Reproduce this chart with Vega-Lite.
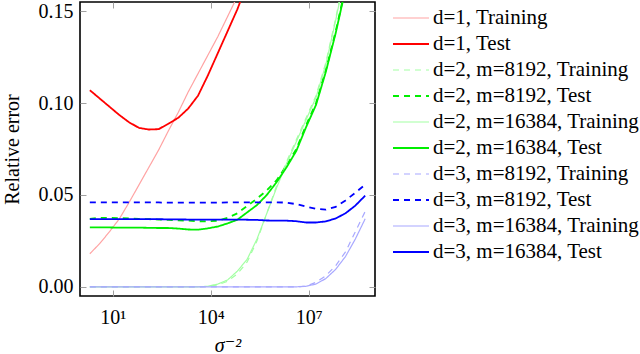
{
  "$schema": "https://vega.github.io/schema/vega-lite/v6.json",
  "width": 295,
  "height": 294,
  "autosize": {"type": "none"},
  "padding": {"left": 80, "top": 2, "right": 265, "bottom": 58},
  "background": "white",
  "config": {
    "font": "Liberation Serif, DejaVu Serif, serif",
    "view": {"stroke": "#000000", "strokeWidth": 1.6},
    "axis": {
      "labelFont": "Liberation Serif, DejaVu Serif, serif",
      "labelFontSize": 20,
      "labelColor": "black",
      "titleFont": "Liberation Serif, DejaVu Serif, serif",
      "titleFontSize": 20,
      "titleFontWeight": "normal",
      "titleColor": "black",
      "domain": false,
      "grid": false,
      "tickColor": "#a0a0a0",
      "tickSize": -6,
      "tickWidth": 1
    },
    "legend": {
      "labelFont": "Liberation Serif, DejaVu Serif, serif",
      "labelFontSize": 21,
      "labelColor": "black"
    }
  },
  "data": {
    "values": [
      {"x": 2, "y": 0.018, "s": "d=1, Training"},
      {"x": 4, "y": 0.0235, "s": "d=1, Training"},
      {"x": 8, "y": 0.030, "s": "d=1, Training"},
      {"x": 16, "y": 0.037, "s": "d=1, Training"},
      {"x": 32, "y": 0.046, "s": "d=1, Training"},
      {"x": 64, "y": 0.0555, "s": "d=1, Training"},
      {"x": 128, "y": 0.065, "s": "d=1, Training"},
      {"x": 256, "y": 0.0745, "s": "d=1, Training"},
      {"x": 512, "y": 0.085, "s": "d=1, Training"},
      {"x": 1024, "y": 0.095, "s": "d=1, Training"},
      {"x": 2048, "y": 0.106, "s": "d=1, Training"},
      {"x": 4096, "y": 0.116, "s": "d=1, Training"},
      {"x": 8192, "y": 0.126, "s": "d=1, Training"},
      {"x": 16384, "y": 0.136, "s": "d=1, Training"},
      {"x": 32768, "y": 0.147, "s": "d=1, Training"},
      {"x": 65536, "y": 0.158, "s": "d=1, Training"},
      {"x": 131072, "y": 0.169, "s": "d=1, Training"},

      {"x": 2, "y": 0.107, "s": "d=1, Test"},
      {"x": 4, "y": 0.1025, "s": "d=1, Test"},
      {"x": 8, "y": 0.098, "s": "d=1, Test"},
      {"x": 16, "y": 0.0935, "s": "d=1, Test"},
      {"x": 32, "y": 0.0895, "s": "d=1, Test"},
      {"x": 64, "y": 0.0865, "s": "d=1, Test"},
      {"x": 128, "y": 0.0856, "s": "d=1, Test"},
      {"x": 256, "y": 0.0858, "s": "d=1, Test"},
      {"x": 512, "y": 0.0888, "s": "d=1, Test"},
      {"x": 1024, "y": 0.092, "s": "d=1, Test"},
      {"x": 2048, "y": 0.097, "s": "d=1, Test"},
      {"x": 4096, "y": 0.104, "s": "d=1, Test"},
      {"x": 8192, "y": 0.115, "s": "d=1, Test"},
      {"x": 16384, "y": 0.127, "s": "d=1, Test"},
      {"x": 32768, "y": 0.139, "s": "d=1, Test"},
      {"x": 65536, "y": 0.151, "s": "d=1, Test"},
      {"x": 131072, "y": 0.165, "s": "d=1, Test"},

      {"x": 2, "y": 0, "s": "d=2, m=8192, Training"},
      {"x": 4, "y": 0, "s": "d=2, m=8192, Training"},
      {"x": 8, "y": 0, "s": "d=2, m=8192, Training"},
      {"x": 16, "y": 0, "s": "d=2, m=8192, Training"},
      {"x": 32, "y": 0, "s": "d=2, m=8192, Training"},
      {"x": 64, "y": 0, "s": "d=2, m=8192, Training"},
      {"x": 128, "y": 0, "s": "d=2, m=8192, Training"},
      {"x": 256, "y": 0, "s": "d=2, m=8192, Training"},
      {"x": 512, "y": 0, "s": "d=2, m=8192, Training"},
      {"x": 1024, "y": 0, "s": "d=2, m=8192, Training"},
      {"x": 2048, "y": 0, "s": "d=2, m=8192, Training"},
      {"x": 4096, "y": 0, "s": "d=2, m=8192, Training"},
      {"x": 8192, "y": 0.0002, "s": "d=2, m=8192, Training"},
      {"x": 16384, "y": 0.001, "s": "d=2, m=8192, Training"},
      {"x": 32768, "y": 0.003, "s": "d=2, m=8192, Training"},
      {"x": 65536, "y": 0.007, "s": "d=2, m=8192, Training"},
      {"x": 131072, "y": 0.0135, "s": "d=2, m=8192, Training"},
      {"x": 262144, "y": 0.025, "s": "d=2, m=8192, Training"},
      {"x": 524288, "y": 0.040, "s": "d=2, m=8192, Training"},
      {"x": 1048576, "y": 0.055, "s": "d=2, m=8192, Training"},
      {"x": 2097152, "y": 0.068, "s": "d=2, m=8192, Training"},
      {"x": 4194304, "y": 0.080, "s": "d=2, m=8192, Training"},
      {"x": 8388608, "y": 0.092, "s": "d=2, m=8192, Training"},
      {"x": 16777216, "y": 0.104, "s": "d=2, m=8192, Training"},
      {"x": 33554432, "y": 0.122, "s": "d=2, m=8192, Training"},
      {"x": 67108864, "y": 0.146, "s": "d=2, m=8192, Training"},
      {"x": 134217728, "y": 0.172, "s": "d=2, m=8192, Training"},

      {"x": 2, "y": 0.037, "s": "d=2, m=8192, Test"},
      {"x": 4, "y": 0.0375, "s": "d=2, m=8192, Test"},
      {"x": 8, "y": 0.0375, "s": "d=2, m=8192, Test"},
      {"x": 16, "y": 0.0374, "s": "d=2, m=8192, Test"},
      {"x": 32, "y": 0.0372, "s": "d=2, m=8192, Test"},
      {"x": 64, "y": 0.037, "s": "d=2, m=8192, Test"},
      {"x": 128, "y": 0.0368, "s": "d=2, m=8192, Test"},
      {"x": 256, "y": 0.0366, "s": "d=2, m=8192, Test"},
      {"x": 512, "y": 0.0364, "s": "d=2, m=8192, Test"},
      {"x": 1024, "y": 0.0362, "s": "d=2, m=8192, Test"},
      {"x": 2048, "y": 0.036, "s": "d=2, m=8192, Test"},
      {"x": 4096, "y": 0.0357, "s": "d=2, m=8192, Test"},
      {"x": 8192, "y": 0.0356, "s": "d=2, m=8192, Test"},
      {"x": 16384, "y": 0.036, "s": "d=2, m=8192, Test"},
      {"x": 32768, "y": 0.0375, "s": "d=2, m=8192, Test"},
      {"x": 65536, "y": 0.040, "s": "d=2, m=8192, Test"},
      {"x": 131072, "y": 0.044, "s": "d=2, m=8192, Test"},
      {"x": 262144, "y": 0.048, "s": "d=2, m=8192, Test"},
      {"x": 524288, "y": 0.0525, "s": "d=2, m=8192, Test"},
      {"x": 1048576, "y": 0.058, "s": "d=2, m=8192, Test"},
      {"x": 2097152, "y": 0.066, "s": "d=2, m=8192, Test"},
      {"x": 4194304, "y": 0.075, "s": "d=2, m=8192, Test"},
      {"x": 8388608, "y": 0.088, "s": "d=2, m=8192, Test"},
      {"x": 16777216, "y": 0.100, "s": "d=2, m=8192, Test"},
      {"x": 33554432, "y": 0.118, "s": "d=2, m=8192, Test"},
      {"x": 67108864, "y": 0.139, "s": "d=2, m=8192, Test"},
      {"x": 134217728, "y": 0.163, "s": "d=2, m=8192, Test"},

      {"x": 2, "y": 0, "s": "d=2, m=16384, Training"},
      {"x": 4, "y": 0, "s": "d=2, m=16384, Training"},
      {"x": 8, "y": 0, "s": "d=2, m=16384, Training"},
      {"x": 16, "y": 0, "s": "d=2, m=16384, Training"},
      {"x": 32, "y": 0, "s": "d=2, m=16384, Training"},
      {"x": 64, "y": 0, "s": "d=2, m=16384, Training"},
      {"x": 128, "y": 0, "s": "d=2, m=16384, Training"},
      {"x": 256, "y": 0, "s": "d=2, m=16384, Training"},
      {"x": 512, "y": 0, "s": "d=2, m=16384, Training"},
      {"x": 1024, "y": 0, "s": "d=2, m=16384, Training"},
      {"x": 2048, "y": 0, "s": "d=2, m=16384, Training"},
      {"x": 4096, "y": 0, "s": "d=2, m=16384, Training"},
      {"x": 8192, "y": 0.0003, "s": "d=2, m=16384, Training"},
      {"x": 16384, "y": 0.0015, "s": "d=2, m=16384, Training"},
      {"x": 32768, "y": 0.0037, "s": "d=2, m=16384, Training"},
      {"x": 65536, "y": 0.0085, "s": "d=2, m=16384, Training"},
      {"x": 131072, "y": 0.015, "s": "d=2, m=16384, Training"},
      {"x": 262144, "y": 0.026, "s": "d=2, m=16384, Training"},
      {"x": 524288, "y": 0.040, "s": "d=2, m=16384, Training"},
      {"x": 1048576, "y": 0.054, "s": "d=2, m=16384, Training"},
      {"x": 2097152, "y": 0.067, "s": "d=2, m=16384, Training"},
      {"x": 4194304, "y": 0.079, "s": "d=2, m=16384, Training"},
      {"x": 8388608, "y": 0.091, "s": "d=2, m=16384, Training"},
      {"x": 16777216, "y": 0.103, "s": "d=2, m=16384, Training"},
      {"x": 33554432, "y": 0.121, "s": "d=2, m=16384, Training"},
      {"x": 67108864, "y": 0.145, "s": "d=2, m=16384, Training"},
      {"x": 134217728, "y": 0.171, "s": "d=2, m=16384, Training"},

      {"x": 2, "y": 0.0323, "s": "d=2, m=16384, Test"},
      {"x": 4, "y": 0.0323, "s": "d=2, m=16384, Test"},
      {"x": 8, "y": 0.0323, "s": "d=2, m=16384, Test"},
      {"x": 16, "y": 0.0322, "s": "d=2, m=16384, Test"},
      {"x": 32, "y": 0.0322, "s": "d=2, m=16384, Test"},
      {"x": 64, "y": 0.0322, "s": "d=2, m=16384, Test"},
      {"x": 128, "y": 0.0321, "s": "d=2, m=16384, Test"},
      {"x": 256, "y": 0.032, "s": "d=2, m=16384, Test"},
      {"x": 512, "y": 0.032, "s": "d=2, m=16384, Test"},
      {"x": 1024, "y": 0.0317, "s": "d=2, m=16384, Test"},
      {"x": 2048, "y": 0.0312, "s": "d=2, m=16384, Test"},
      {"x": 4096, "y": 0.0311, "s": "d=2, m=16384, Test"},
      {"x": 8192, "y": 0.0318, "s": "d=2, m=16384, Test"},
      {"x": 16384, "y": 0.0328, "s": "d=2, m=16384, Test"},
      {"x": 32768, "y": 0.0345, "s": "d=2, m=16384, Test"},
      {"x": 65536, "y": 0.0365, "s": "d=2, m=16384, Test"},
      {"x": 131072, "y": 0.0405, "s": "d=2, m=16384, Test"},
      {"x": 262144, "y": 0.0445, "s": "d=2, m=16384, Test"},
      {"x": 524288, "y": 0.050, "s": "d=2, m=16384, Test"},
      {"x": 1048576, "y": 0.057, "s": "d=2, m=16384, Test"},
      {"x": 2097152, "y": 0.065, "s": "d=2, m=16384, Test"},
      {"x": 4194304, "y": 0.074, "s": "d=2, m=16384, Test"},
      {"x": 8388608, "y": 0.087, "s": "d=2, m=16384, Test"},
      {"x": 16777216, "y": 0.099, "s": "d=2, m=16384, Test"},
      {"x": 33554432, "y": 0.117, "s": "d=2, m=16384, Test"},
      {"x": 67108864, "y": 0.138, "s": "d=2, m=16384, Test"},
      {"x": 134217728, "y": 0.162, "s": "d=2, m=16384, Test"},

      {"x": 2, "y": 0, "s": "d=3, m=8192, Training"},
      {"x": 4, "y": 0, "s": "d=3, m=8192, Training"},
      {"x": 8, "y": 0, "s": "d=3, m=8192, Training"},
      {"x": 16, "y": 0, "s": "d=3, m=8192, Training"},
      {"x": 32, "y": 0, "s": "d=3, m=8192, Training"},
      {"x": 64, "y": 0, "s": "d=3, m=8192, Training"},
      {"x": 128, "y": 0, "s": "d=3, m=8192, Training"},
      {"x": 256, "y": 0, "s": "d=3, m=8192, Training"},
      {"x": 512, "y": 0, "s": "d=3, m=8192, Training"},
      {"x": 1024, "y": 0, "s": "d=3, m=8192, Training"},
      {"x": 2048, "y": 0, "s": "d=3, m=8192, Training"},
      {"x": 4096, "y": 0, "s": "d=3, m=8192, Training"},
      {"x": 8192, "y": 0, "s": "d=3, m=8192, Training"},
      {"x": 16384, "y": 0, "s": "d=3, m=8192, Training"},
      {"x": 32768, "y": 0, "s": "d=3, m=8192, Training"},
      {"x": 65536, "y": 0, "s": "d=3, m=8192, Training"},
      {"x": 131072, "y": 0, "s": "d=3, m=8192, Training"},
      {"x": 262144, "y": 0, "s": "d=3, m=8192, Training"},
      {"x": 524288, "y": 0, "s": "d=3, m=8192, Training"},
      {"x": 1048576, "y": 0, "s": "d=3, m=8192, Training"},
      {"x": 2097152, "y": 0, "s": "d=3, m=8192, Training"},
      {"x": 4194304, "y": 0, "s": "d=3, m=8192, Training"},
      {"x": 8388608, "y": 0.0003, "s": "d=3, m=8192, Training"},
      {"x": 16777216, "y": 0.0025, "s": "d=3, m=8192, Training"},
      {"x": 33554432, "y": 0.006, "s": "d=3, m=8192, Training"},
      {"x": 67108864, "y": 0.0115, "s": "d=3, m=8192, Training"},
      {"x": 134217728, "y": 0.019, "s": "d=3, m=8192, Training"},
      {"x": 268435456, "y": 0.030, "s": "d=3, m=8192, Training"},
      {"x": 536870912, "y": 0.041, "s": "d=3, m=8192, Training"},

      {"x": 2, "y": 0.046, "s": "d=3, m=8192, Test"},
      {"x": 4, "y": 0.046, "s": "d=3, m=8192, Test"},
      {"x": 8, "y": 0.046, "s": "d=3, m=8192, Test"},
      {"x": 16, "y": 0.046, "s": "d=3, m=8192, Test"},
      {"x": 32, "y": 0.046, "s": "d=3, m=8192, Test"},
      {"x": 64, "y": 0.046, "s": "d=3, m=8192, Test"},
      {"x": 128, "y": 0.046, "s": "d=3, m=8192, Test"},
      {"x": 256, "y": 0.0459, "s": "d=3, m=8192, Test"},
      {"x": 512, "y": 0.0458, "s": "d=3, m=8192, Test"},
      {"x": 1024, "y": 0.0458, "s": "d=3, m=8192, Test"},
      {"x": 2048, "y": 0.0458, "s": "d=3, m=8192, Test"},
      {"x": 4096, "y": 0.0458, "s": "d=3, m=8192, Test"},
      {"x": 8192, "y": 0.0458, "s": "d=3, m=8192, Test"},
      {"x": 16384, "y": 0.0458, "s": "d=3, m=8192, Test"},
      {"x": 32768, "y": 0.0459, "s": "d=3, m=8192, Test"},
      {"x": 65536, "y": 0.046, "s": "d=3, m=8192, Test"},
      {"x": 131072, "y": 0.046, "s": "d=3, m=8192, Test"},
      {"x": 262144, "y": 0.046, "s": "d=3, m=8192, Test"},
      {"x": 524288, "y": 0.046, "s": "d=3, m=8192, Test"},
      {"x": 1048576, "y": 0.046, "s": "d=3, m=8192, Test"},
      {"x": 2097152, "y": 0.0458, "s": "d=3, m=8192, Test"},
      {"x": 4194304, "y": 0.045, "s": "d=3, m=8192, Test"},
      {"x": 8388608, "y": 0.0436, "s": "d=3, m=8192, Test"},
      {"x": 16777216, "y": 0.0425, "s": "d=3, m=8192, Test"},
      {"x": 33554432, "y": 0.042, "s": "d=3, m=8192, Test"},
      {"x": 67108864, "y": 0.0435, "s": "d=3, m=8192, Test"},
      {"x": 134217728, "y": 0.047, "s": "d=3, m=8192, Test"},
      {"x": 268435456, "y": 0.0512, "s": "d=3, m=8192, Test"},
      {"x": 536870912, "y": 0.0556, "s": "d=3, m=8192, Test"},

      {"x": 2, "y": 0, "s": "d=3, m=16384, Training"},
      {"x": 4, "y": 0, "s": "d=3, m=16384, Training"},
      {"x": 8, "y": 0, "s": "d=3, m=16384, Training"},
      {"x": 16, "y": 0, "s": "d=3, m=16384, Training"},
      {"x": 32, "y": 0, "s": "d=3, m=16384, Training"},
      {"x": 64, "y": 0, "s": "d=3, m=16384, Training"},
      {"x": 128, "y": 0, "s": "d=3, m=16384, Training"},
      {"x": 256, "y": 0, "s": "d=3, m=16384, Training"},
      {"x": 512, "y": 0, "s": "d=3, m=16384, Training"},
      {"x": 1024, "y": 0, "s": "d=3, m=16384, Training"},
      {"x": 2048, "y": 0, "s": "d=3, m=16384, Training"},
      {"x": 4096, "y": 0, "s": "d=3, m=16384, Training"},
      {"x": 8192, "y": 0, "s": "d=3, m=16384, Training"},
      {"x": 16384, "y": 0, "s": "d=3, m=16384, Training"},
      {"x": 32768, "y": 0, "s": "d=3, m=16384, Training"},
      {"x": 65536, "y": 0, "s": "d=3, m=16384, Training"},
      {"x": 131072, "y": 0, "s": "d=3, m=16384, Training"},
      {"x": 262144, "y": 0, "s": "d=3, m=16384, Training"},
      {"x": 524288, "y": 0, "s": "d=3, m=16384, Training"},
      {"x": 1048576, "y": 0, "s": "d=3, m=16384, Training"},
      {"x": 2097152, "y": 0, "s": "d=3, m=16384, Training"},
      {"x": 4194304, "y": 0, "s": "d=3, m=16384, Training"},
      {"x": 8388608, "y": 0.0003, "s": "d=3, m=16384, Training"},
      {"x": 16777216, "y": 0.0015, "s": "d=3, m=16384, Training"},
      {"x": 33554432, "y": 0.0045, "s": "d=3, m=16384, Training"},
      {"x": 67108864, "y": 0.0095, "s": "d=3, m=16384, Training"},
      {"x": 134217728, "y": 0.0165, "s": "d=3, m=16384, Training"},
      {"x": 268435456, "y": 0.026, "s": "d=3, m=16384, Training"},
      {"x": 536870912, "y": 0.037, "s": "d=3, m=16384, Training"},

      {"x": 2, "y": 0.0368, "s": "d=3, m=16384, Test"},
      {"x": 4, "y": 0.0368, "s": "d=3, m=16384, Test"},
      {"x": 8, "y": 0.0368, "s": "d=3, m=16384, Test"},
      {"x": 16, "y": 0.0368, "s": "d=3, m=16384, Test"},
      {"x": 32, "y": 0.0368, "s": "d=3, m=16384, Test"},
      {"x": 64, "y": 0.0368, "s": "d=3, m=16384, Test"},
      {"x": 128, "y": 0.0368, "s": "d=3, m=16384, Test"},
      {"x": 256, "y": 0.0368, "s": "d=3, m=16384, Test"},
      {"x": 512, "y": 0.0367, "s": "d=3, m=16384, Test"},
      {"x": 1024, "y": 0.0367, "s": "d=3, m=16384, Test"},
      {"x": 2048, "y": 0.0366, "s": "d=3, m=16384, Test"},
      {"x": 4096, "y": 0.0366, "s": "d=3, m=16384, Test"},
      {"x": 8192, "y": 0.0366, "s": "d=3, m=16384, Test"},
      {"x": 16384, "y": 0.0366, "s": "d=3, m=16384, Test"},
      {"x": 32768, "y": 0.0366, "s": "d=3, m=16384, Test"},
      {"x": 65536, "y": 0.0366, "s": "d=3, m=16384, Test"},
      {"x": 131072, "y": 0.0365, "s": "d=3, m=16384, Test"},
      {"x": 262144, "y": 0.0364, "s": "d=3, m=16384, Test"},
      {"x": 524288, "y": 0.0361, "s": "d=3, m=16384, Test"},
      {"x": 1048576, "y": 0.036, "s": "d=3, m=16384, Test"},
      {"x": 2097152, "y": 0.036, "s": "d=3, m=16384, Test"},
      {"x": 4194304, "y": 0.0357, "s": "d=3, m=16384, Test"},
      {"x": 8388608, "y": 0.035, "s": "d=3, m=16384, Test"},
      {"x": 16777216, "y": 0.035, "s": "d=3, m=16384, Test"},
      {"x": 33554432, "y": 0.0356, "s": "d=3, m=16384, Test"},
      {"x": 67108864, "y": 0.0372, "s": "d=3, m=16384, Test"},
      {"x": 134217728, "y": 0.040, "s": "d=3, m=16384, Test"},
      {"x": 268435456, "y": 0.0442, "s": "d=3, m=16384, Test"},
      {"x": 536870912, "y": 0.0496, "s": "d=3, m=16384, Test"}
    ]
  },
  "layer": [
    {
      "mark": {"type": "line", "clip": true},
      "encoding": {
        "x": {
          "field": "x", "type": "quantitative",
          "scale": {"type": "log", "domain": [1, 1073741824], "nice": false},
          "axis": {
            "values": [10, 10000, 10000000],
            "labelExpr": "datum.value == 10 ? '10¹' : datum.value == 10000 ? '10⁴' : '10⁷'",
            "labelPadding": 17,
            "title": "σ⁻²",
            "titleFontStyle": "italic",
            "titlePadding": 8
          }
        },
        "y": {
          "field": "y", "type": "quantitative",
          "scale": {"domain": [-0.005, 0.155], "nice": false, "zero": false},
          "axis": {
            "values": [0, 0.05, 0.1, 0.15],
            "format": ".2f",
            "labelPadding": 13,
            "title": "Relative error",
            "titlePadding": 16
          }
        },
        "color": {
          "field": "s", "type": "nominal",
          "scale": {
            "domain": ["d=1, Training", "d=1, Test", "d=2, m=8192, Training", "d=2, m=8192, Test", "d=2, m=16384, Training", "d=2, m=16384, Test", "d=3, m=8192, Training", "d=3, m=8192, Test", "d=3, m=16384, Training", "d=3, m=16384, Test"],
            "range": ["#ffa3a3", "#ff0000", "#a3ffa3", "#00ee00", "#a3ffa3", "#00ee00", "#a8a8ff", "#0000ff", "#a8a8ff", "#0000ff"]
          },
          "legend": {
            "title": null,
            "orient": "none",
            "legendX": 312,
            "legendY": 3,
            "padding": 0,
            "symbolType": "stroke",
            "symbolSize": 1296,
            "clipHeight": 26,
            "labelOffset": 3,
            "rowPadding": 0,
            "labelLimit": 400
          }
        },
        "strokeDash": {
          "field": "s", "type": "nominal",
          "scale": {
            "domain": ["d=1, Training", "d=1, Test", "d=2, m=8192, Training", "d=2, m=8192, Test", "d=2, m=16384, Training", "d=2, m=16384, Test", "d=3, m=8192, Training", "d=3, m=8192, Test", "d=3, m=16384, Training", "d=3, m=16384, Test"],
            "range": [[1, 0], [1, 0], [6, 5], [6, 5], [1, 0], [1, 0], [6, 5], [6, 5], [1, 0], [1, 0]]
          }
        },
        "strokeWidth": {
          "field": "s", "type": "nominal",
          "scale": {
            "type": "ordinal",
            "domain": ["d=1, Training", "d=1, Test", "d=2, m=8192, Training", "d=2, m=8192, Test", "d=2, m=16384, Training", "d=2, m=16384, Test", "d=3, m=8192, Training", "d=3, m=8192, Test", "d=3, m=16384, Training", "d=3, m=16384, Test"],
            "range": [1.2, 1.8, 1.2, 1.8, 1.2, 1.8, 1.2, 1.8, 1.2, 1.8]
          }
        }
      }
    },
    {
      "mark": {"type": "point", "opacity": 0},
      "encoding": {
        "x": {
          "field": "x", "type": "quantitative",
          "axis": {"orient": "top", "values": [10, 10000, 10000000], "labels": false, "title": null}
        },
        "y": {
          "field": "y", "type": "quantitative",
          "axis": {"orient": "right", "values": [0, 0.05, 0.1, 0.15], "labels": false, "title": null}
        }
      }
    }
  ],
  "resolve": {"axis": {"x": "independent", "y": "independent"}}
}
